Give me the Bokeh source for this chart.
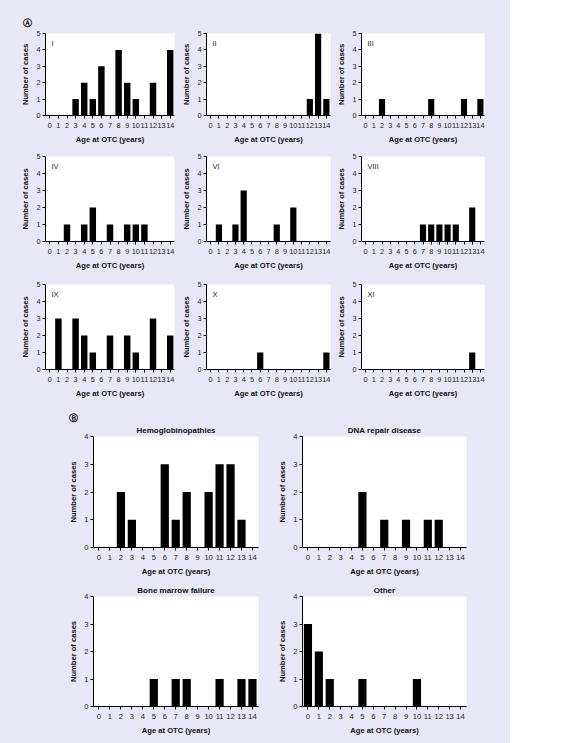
from bokeh.plotting import figure
from bokeh.layouts import column, row
from bokeh.models import Range1d, FixedTicker, Label, Title
from bokeh.embed import file_html
from bokeh.resources import INLINE

AGES = list(range(15))
AGE_TICKS = list(range(15))

# Panel A: number of cases per age, by group
SERIES_A_NAMES = ["I", "II", "III", "IV", "VI", "VIII", "IX", "X", "XI"]
CASES_I    = [0, 0, 0, 1, 2, 1, 3, 0, 4, 2, 1, 0, 2, 0, 4]
CASES_II   = [0, 0, 0, 0, 0, 0, 0, 0, 0, 0, 0, 0, 1, 5, 1]
CASES_III  = [0, 0, 1, 0, 0, 0, 0, 0, 1, 0, 0, 0, 1, 0, 1]
CASES_IV   = [0, 0, 1, 0, 1, 2, 0, 1, 0, 1, 1, 1, 0, 0, 0]
CASES_VI   = [0, 1, 0, 1, 3, 0, 0, 0, 1, 0, 2, 0, 0, 0, 0]
CASES_VIII = [0, 0, 0, 0, 0, 0, 0, 1, 1, 1, 1, 1, 0, 2, 0]
CASES_IX   = [0, 3, 0, 3, 2, 1, 0, 2, 0, 2, 1, 0, 3, 0, 2]
CASES_X    = [0, 0, 0, 0, 0, 0, 1, 0, 0, 0, 0, 0, 0, 0, 1]
CASES_XI   = [0, 0, 0, 0, 0, 0, 0, 0, 0, 0, 0, 0, 0, 1, 0]
Y_TICKS_A = [0, 1, 2, 3, 4, 5]

# Panel B: by disease category
SERIES_B_NAMES = ["Hemoglobinopathies", "DNA repair disease", "Bone marrow failure", "Other"]
CASES_HEMO  = [0, 0, 2, 1, 0, 0, 3, 1, 2, 0, 2, 3, 3, 1, 0]
CASES_DNA   = [0, 0, 0, 0, 0, 2, 0, 1, 0, 1, 0, 1, 1, 0, 0]
CASES_BMF   = [0, 0, 0, 0, 0, 1, 0, 1, 1, 0, 0, 1, 0, 1, 1]
CASES_OTHER = [3, 2, 1, 0, 0, 1, 0, 0, 0, 0, 1, 0, 0, 0, 0]
Y_TICKS_B = [0, 1, 2, 3, 4]

X_LABEL = "Age at OTC (years)"
Y_LABEL = "Number of cases"

BG = "#e8e7f8"
FONT = "Liberation Sans"


def style_title(t, text, align, offset, standoff, letter=False):
    t.text = text
    t.align = align
    t.offset = offset
    t.standoff = standoff
    t.text_font = "DejaVu Sans" if letter else FONT
    t.text_font_style = "bold"
    t.text_font_size = "9px" if letter else "8px"
    t.text_color = "#111111"


def make_fig(counts, w, h, bl, br, bt, bb, ymax, yticks, big=False,
             tag=None, title=None, letter=None):
    p = figure(width=w, height=h, output_backend="svg", toolbar_location=None,
               x_range=Range1d(-0.5, 14.55 if big else 14.5),
               y_range=Range1d(0, ymax),
               min_border_left=bl, min_border_right=br,
               min_border_top=bt, min_border_bottom=bb)
    p.border_fill_color = BG
    p.background_fill_color = "white"
    p.outline_line_color = None
    p.grid.visible = False
    p.vbar(x=AGES, top=counts, width=0.75, fill_color="black", line_color=None)
    tick_fs = "7.6px" if big else "7.3px"
    for ax, ticks in ((p.xaxis[0], AGE_TICKS), (p.yaxis[0], yticks)):
        ax.ticker = FixedTicker(ticks=ticks)
        ax.axis_line_color = "black"
        ax.axis_line_width = 1
        ax.major_tick_in = 0
        ax.major_tick_out = 3
        ax.minor_tick_in = 0
        ax.minor_tick_out = 0
        ax.major_tick_line_color = "black"
        ax.major_label_text_font = FONT
        ax.major_label_text_font_size = tick_fs
        ax.major_label_text_color = "#222222"
        ax.axis_label_text_font = FONT
        ax.axis_label_text_font_style = "bold"
        ax.axis_label_text_font_size = "7.6px"
        ax.axis_label_text_color = "#111111"
    p.xaxis[0].axis_label = X_LABEL
    p.yaxis[0].axis_label = Y_LABEL
    p.xaxis[0].major_label_standoff = 4
    p.yaxis[0].major_label_standoff = 2
    p.xaxis[0].axis_label_standoff = 4
    p.yaxis[0].axis_label_standoff = 3
    if letter is not None:
        # circled panel letter as the outer title
        style_title(p.title, letter[0], "left", letter[1], letter[2], letter=True)
        if title is not None:
            t = Title()
            style_title(t, title, "center", 0, 3)
            p.add_layout(t, "above")
    elif title is not None:
        style_title(p.title, title, "center", 0, 3)
    if tag is not None:
        p.add_layout(Label(x=-0.5, y=ymax, x_offset=6, y_offset=-10, text=tag,
                           text_font=FONT, text_font_size="7.5px",
                           text_baseline="middle", text_align="left",
                           text_color="#222222"))
    return p


COLS_A = [(179, 45, 5), (155, 23, 4), (176, 22, 26)]
ROWS_A = [(146, 33, 27), (128, 10, 33), (134, 10, 39)]
DATA_A = [CASES_I, CASES_II, CASES_III, CASES_IV, CASES_VI, CASES_VIII,
          CASES_IX, CASES_X, CASES_XI]

rows = []
k = 0
for (h, bt, bb) in ROWS_A:
    figs = []
    for (w, bl, br) in COLS_A:
        letter = ("\u24b6", -23, 12) if k == 0 else None
        f = make_fig(DATA_A[k], w, h, bl, br, bt, bb, 5, Y_TICKS_A,
                     tag=SERIES_A_NAMES[k], letter=letter)
        figs.append(f)
        k += 1
    rows.append(figs)

COLS_B = [(275, 93, 17), (235, 26, 44)]
ROWS_B = [(170, 28, 31), (165, 18, 37)]
DATA_B = [CASES_HEMO, CASES_DNA, CASES_BMF, CASES_OTHER]
k = 0
for (h, bt, bb) in ROWS_B:
    figs = []
    for (w, bl, br) in COLS_B:
        letter = ("\u24b7", -25, 0) if k == 0 else None
        f = make_fig(DATA_B[k], w, h, bl, br, bt, bb, 4, Y_TICKS_B, big=True,
                     title=SERIES_B_NAMES[k], letter=letter)
        figs.append(f)
        k += 1
    rows.append(figs)

layout = column(*[row(*r, spacing=0, styles={"background-color": BG})
                  for r in rows],
                spacing=0, styles={"background-color": BG})

open("out.html", "w").write(file_html(layout, INLINE))
